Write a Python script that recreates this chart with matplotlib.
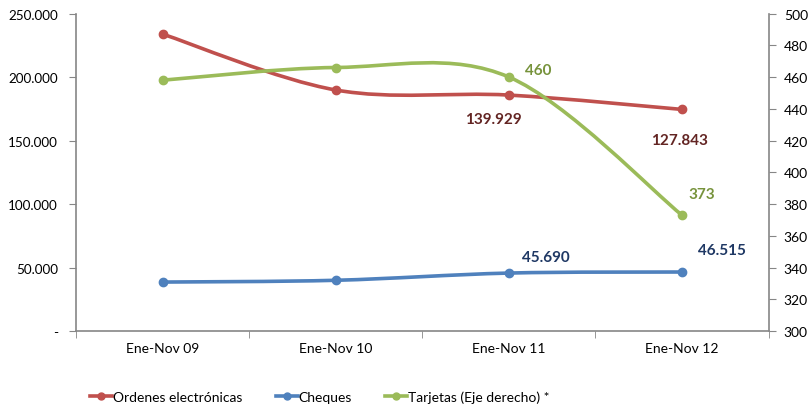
import numpy as np
import matplotlib.pyplot as plt
from matplotlib.path import Path
from matplotlib.patches import PathPatch
from matplotlib.lines import Line2D

periods = ['Ene-Nov 09', 'Ene-Nov 10', 'Ene-Nov 11', 'Ene-Nov 12']
ordenes = [233800, 189800, 185800, 174500]
cheques = [38600, 40000, 45690, 46515]
tarjetas = [458, 466, 460, 373]
ordenes_labels = ['', '', '139.929', '127.843']
cheques_labels = ['', '', '45.690', '46.515']
tarjetas_labels = ['', '', '460', '373']

RED, BLUE, GREEN = '#C0504D', '#4F81BD', '#9BBB59'
GRAY = '#868686'
plt.rcParams['font.family'] = ['Lato', 'DejaVu Sans']


def smooth_path(x, y):
    # Excel-style smoothed line: cubic Bezier through points (Catmull-Rom)
    pts = np.column_stack([x, y]).astype(float)
    n = len(pts)
    verts = [pts[0]]
    codes = [Path.MOVETO]
    for i in range(n - 1):
        p0 = pts[i - 1] if i > 0 else pts[i]
        p1, p2 = pts[i], pts[i + 1]
        p3 = pts[i + 2] if i + 2 < n else pts[i + 1]
        c1 = p1 + (p2 - p0) / 6.0
        c2 = p2 - (p3 - p1) / 6.0
        verts += [c1, c2, p2]
        codes += [Path.CURVE4] * 3
    return Path(verts, codes)


fig = plt.figure(figsize=(8.11, 4.10), dpi=100)
ax = fig.add_axes([0.0937, 0.190, 0.854, 0.7746])
ax2 = ax.twinx()
x = np.arange(len(periods))

for axis, vals, col in [(ax, ordenes, RED), (ax, cheques, BLUE), (ax2, tarjetas, GREEN)]:
    axis.add_patch(PathPatch(smooth_path(x, vals), facecolor='none', edgecolor=col,
                             lw=2.6, capstyle='round', zorder=3))
    axis.plot(x, vals, 'o', color=col, ms=6, zorder=4)

ax.set_xlim(-0.5, 3.5)
ax.set_ylim(0, 250000)
ax2.set_ylim(300, 500)
ax.set_yticks(np.arange(0, 250001, 50000))
ax.set_yticklabels(['-'] + [f'{v:,}'.replace(',', '.') for v in range(50000, 250001, 50000)])
ax2.set_yticks(np.arange(300, 501, 20))
ax.set_xticks(x)
ax.set_xticklabels(periods)
ax.set_xticks(np.arange(-0.5, 3.6, 1), minor=True)
ax.tick_params(axis='x', which='major', length=0, pad=8, labelsize=10)
ax.tick_params(axis='x', which='minor', length=5, color=GRAY, direction='out')
ax.tick_params(axis='y', length=5, color=GRAY, labelsize=9.7, pad=8)
ax2.tick_params(axis='y', length=5, color=GRAY, labelsize=10, pad=6)

for a in (ax, ax2):
    a.spines['top'].set_visible(False)
    for s in ('left', 'right', 'bottom'):
        a.spines[s].set_color(GRAY)
        a.spines[s].set_linewidth(1.2)
ax.spines['right'].set_visible(False)
ax2.spines['left'].set_visible(False)
ax2.spines['bottom'].set_visible(False)

# data labels
lab = dict(fontsize=11, fontweight='bold', ha='center', va='center',
           textcoords='offset points')
ax.annotate(ordenes_labels[2], (x[2], ordenes[2]), xytext=(-11.5, -17),
            color='#632523', **lab)
ax.annotate(ordenes_labels[3], (x[3], ordenes[3]), xytext=(-2, -22),
            color='#632523', **lab)
ax.annotate(cheques_labels[2], (x[2], cheques[2]), xytext=(27, 11.5),
            color='#1F3864', **lab)
ax.annotate(cheques_labels[3], (x[3], cheques[3]), xytext=(29, 16),
            color='#1F3864', **lab)
ax2.annotate(tarjetas_labels[2], (x[2], tarjetas[2]), xytext=(21.5, 5),
             color='#77933C', **lab)
ax2.annotate(tarjetas_labels[3], (x[3], tarjetas[3]), xytext=(14, 15),
             color='#77933C', **lab)

handles = [Line2D([0], [0], color=c, lw=2.6, marker='o', ms=5) for c in (RED, BLUE, GREEN)]
fig.legend(handles, ['Ordenes electrónicas', 'Cheques', 'Tarjetas (Eje derecho) *'],
           loc='center left', bbox_to_anchor=(0.111, 0.031), ncol=3, frameon=False,
           fontsize=10, handlelength=1.6, handletextpad=0.05, columnspacing=2.4,
           borderpad=0, borderaxespad=0)

fig.savefig('out.png', dpi=100)
